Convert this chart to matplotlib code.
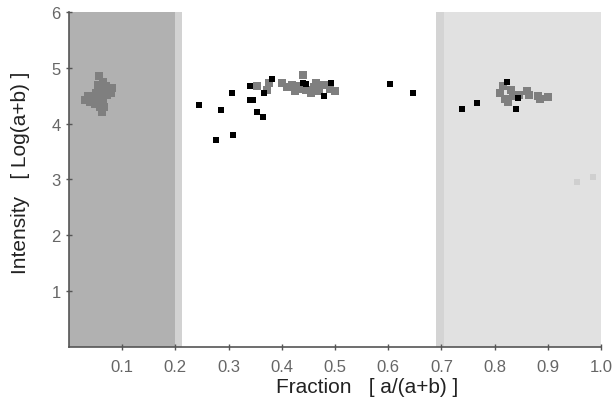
import matplotlib.pyplot as plt

# gray squares (cluster members)
gray_x = [0.030, 0.036, 0.040, 0.045, 0.050, 0.052, 0.055, 0.057, 0.058, 0.060,
          0.060, 0.062, 0.063, 0.064, 0.065, 0.066, 0.070, 0.072, 0.075, 0.078,
          0.080, 0.056, 0.048,
          0.353, 0.372, 0.376, 0.400, 0.410, 0.420, 0.425, 0.430, 0.435, 0.440,
          0.445, 0.455, 0.460, 0.465, 0.470, 0.480, 0.490, 0.500,
          0.810, 0.815, 0.820, 0.825, 0.830, 0.835, 0.845, 0.860, 0.865, 0.882,
          0.885, 0.900]
gray_y = [4.42, 4.50, 4.38, 4.48, 4.55, 4.40, 4.70, 4.85, 4.30, 4.62,
          4.50, 4.20, 4.75, 4.40, 4.58, 4.30, 4.68, 4.52, 4.62, 4.55,
          4.64, 4.60, 4.35,
          4.68, 4.60, 4.72, 4.72, 4.65, 4.70, 4.58, 4.62, 4.68, 4.88,
          4.60, 4.55, 4.65, 4.72, 4.58, 4.70, 4.62, 4.58,
          4.55, 4.68, 4.45, 4.38, 4.60, 4.50, 4.52, 4.58, 4.52, 4.50,
          4.44, 4.48]

# black points (outliers)
black_x = [0.245, 0.277, 0.286, 0.306, 0.308, 0.340, 0.340, 0.345, 0.353, 0.365,
           0.367, 0.381, 0.440, 0.445, 0.480, 0.492, 0.603, 0.647,
           0.739, 0.767, 0.823, 0.840, 0.844]
black_y = [4.33, 3.70, 4.25, 4.55, 3.80, 4.68, 4.43, 4.43, 4.20, 4.12,
           4.55, 4.80, 4.73, 4.71, 4.50, 4.73, 4.71, 4.55,
           4.27, 4.37, 4.75, 4.27, 4.46]

# faint points
faint_x = [0.955, 0.985]
faint_y = [2.95, 3.05]

fig = plt.figure(figsize=(6.14, 4.06), dpi=100)
ax = fig.add_axes([0.1124, 0.1429, 0.8664, 0.8251])

# shaded regions
ax.axvspan(0.0, 0.200, color='#b1b1b1', lw=0, zorder=0)
ax.axvspan(0.200, 0.212, color='#d2d2d2', lw=0, zorder=0)
ax.axvspan(0.690, 1.0, color='#e1e1e1', lw=0, zorder=0)
ax.axvspan(0.690, 0.705, color='#d4d4d4', lw=0, zorder=0)

ax.scatter(gray_x, gray_y, marker='s', s=40, color='#7f7f7f', lw=0, zorder=2)
ax.scatter(black_x, black_y, marker='s', s=14, color='black', lw=0, zorder=3)
ax.scatter(faint_x, faint_y, marker='s', s=20, color='#cfcfcf', lw=0, zorder=1)

ax.set_xlim(0, 1.0)
ax.set_ylim(0, 6)
ax.set_xticks([0.1, 0.2, 0.3, 0.4, 0.5, 0.6, 0.7, 0.8, 0.9, 1.0])
ax.set_xticklabels(['0.1', '0.2', '0.3', '0.4', '0.5', '0.6', '0.7', '0.8', '0.9', '1.0'])
ax.set_yticks([1, 2, 3, 4, 5, 6])

for s in ['top', 'right']:
    ax.spines[s].set_visible(False)
for s in ['left', 'bottom']:
    ax.spines[s].set_color('#555555')
    ax.spines[s].set_linewidth(1.2)

ax.tick_params(direction='inout', length=5, width=1, colors='#555555',
               labelsize=12, labelcolor='#666666')
ax.tick_params(axis='x', pad=6)
for lab in ax.get_xticklabels() + ax.get_yticklabels():
    lab.set_family('Liberation Sans')

ax.set_xlabel('Fraction   [ a/(a+b) ]', fontsize=15, family='Liberation Sans',
              color='#222222')
ax.xaxis.set_label_coords(0.56, -0.09)
ax.set_ylabel('Intensity   [ Log(a+b) ]', fontsize=15, family='Liberation Sans',
              color='#222222')
ax.yaxis.set_label_coords(-0.074, 0.522)

fig.savefig('out.png', dpi=100)
